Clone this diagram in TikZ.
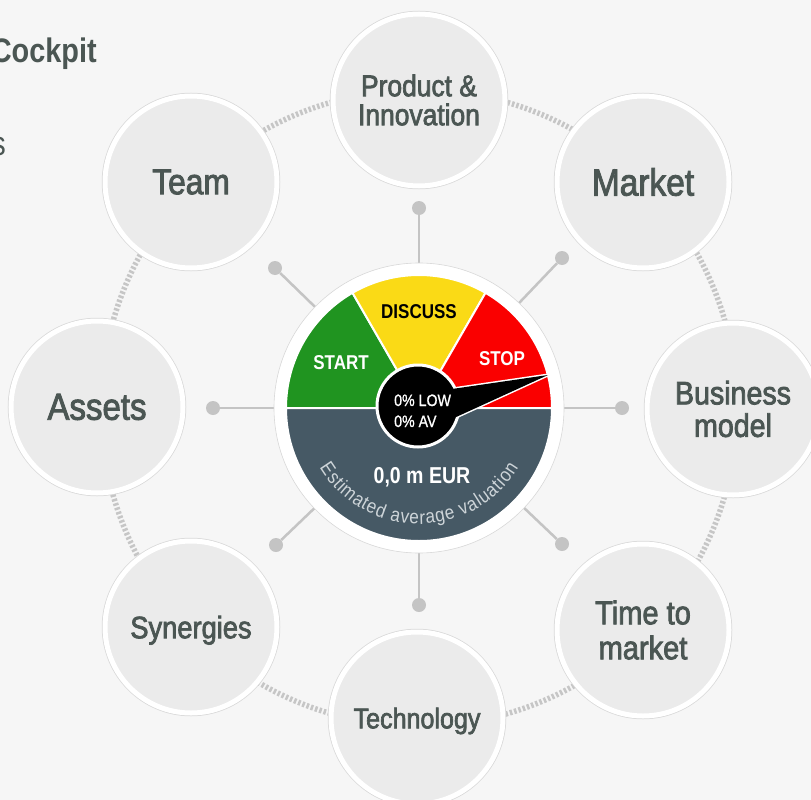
\documentclass[tikz,border=0pt]{standalone}
\usepackage{fontspec}
\usetikzlibrary{decorations.text}
\newfontfamily\lab{Liberation Sans}[FakeStretch=0.88,FakeBold=2.3]
\newfontfamily\gf{Liberation Sans}[FakeStretch=0.85]
\newfontfamily\gm{Liberation Sans}[FakeStretch=0.86,FakeBold=1]
\newfontfamily\gl{Liberation Sans}[FakeStretch=0.88]
\definecolor{bgc}{HTML}{F6F6F6}
\definecolor{ringc}{HTML}{C6C6C6}
\definecolor{spk}{HTML}{C4C4C4}
\definecolor{topicfill}{HTML}{EBEBEB}
\definecolor{topicedge}{HTML}{D8D8D8}
\definecolor{txt}{HTML}{4B5653}
\definecolor{gstart}{RGB}{32,148,32}
\definecolor{gdisc}{RGB}{250,218,22}
\definecolor{gstop}{RGB}{250,0,0}
\definecolor{slate}{RGB}{70,89,101}
\definecolor{valc}{RGB}{205,212,216}
\tikzset{
  topic/.style={circle, minimum size=172pt, inner sep=0pt, fill=topicfill,
    draw=white, line width=5pt, preaction={draw=topicedge, line width=6.5pt},
    text=txt, align=center},
  fs/.style 2 args={font=\lab\fontsize{#1}{#2}\selectfont},
  dotnode/.style={circle, fill=spk, minimum size=14pt, inner sep=0pt},
  spoke/.style={draw=spk, line width=2.5pt},
  ringline/.style={draw=ringc, line width=5.5pt, dash pattern=on 2.5pt off 2pt},
  sector/.style={draw=white, line width=2pt},
  gtext/.style={font=\gf\bfseries\fontsize{20}{20}\selectfont}
}
\begin{document}
\begin{tikzpicture}[x=1pt,y=-1pt]
\useasboundingbox (0,0) rectangle (811,800);
\fill[bgc] (0,0) rectangle (811,800);
\coordinate (C) at (419,408);

% title fragments
\node[anchor=base east, inner sep=0pt, text=txt, font=\gf\bfseries\fontsize{34}{34}\selectfont] (title) at (97,63) {Cockpit};
\node[anchor=base east, inner sep=0pt, text=txt, font=\gf\fontsize{34}{34}\selectfont] (frag) at (6,155) {s};

% dotted ring
\draw[ringline] (C) circle[radius=318];

% spokes
\node[dotnode] (d1) at (419,208) {};
\node[dotnode] (d2) at (562,258) {};
\node[dotnode] (d3) at (622,408) {};
\node[dotnode] (d4) at (562,544) {};
\node[dotnode] (d5) at (419,605) {};
\node[dotnode] (d6) at (276,545) {};
\node[dotnode] (d7) at (213,408) {};
\node[dotnode] (d8) at (275,268) {};
\foreach \d in {d1,d2,d3,d4,d5,d6,d7,d8} \draw[spoke] (C) -- (\d);

% topic circles
\node[topic, fs={30}{30}] (product) at (419,100) {Product \&\\[-1pt]Innovation};
\node[topic, fs={38}{38}] (market) at (643,182) {Market};
\node[topic, fs={32.5}{32.5}] (business) at (733,409) {Business\\model};
\node[topic, fs={33}{35}] (ttm) at (643,630) {Time to\\market};
\node[topic, fs={28.5}{28.5}, text depth=0pt] (tech) at (417,718) {Technology};
\node[topic, fs={31}{31}, text depth=0pt] (syn) at (191,627) {Synergies};
\node[topic, fs={37.5}{37.5}] (assets) at (97,407) {Assets};
\node[topic, fs={36}{36}] (team) at (191,182) {Team};

% gauge
\node[circle, minimum size=290pt, inner sep=0pt, fill=white, draw=topicedge, line width=0.6pt] (gauge) at (C) {};
\filldraw[sector, fill=gstart] (C) -- ([shift={(C)}]180:133) arc[start angle=180, end angle=240, radius=133] -- cycle;
\filldraw[sector, fill=gdisc] (C) -- ([shift={(C)}]240:133) arc[start angle=240, end angle=300, radius=133] -- cycle;
\filldraw[sector, fill=gstop] (C) -- ([shift={(C)}]300:133) arc[start angle=300, end angle=360, radius=133] -- cycle;
\filldraw[sector, fill=slate] ([shift={(C)}]0:133) arc[start angle=0, end angle=180, radius=133] -- cycle;

% needle and hub
\coordinate (n1) at (452,389);
\coordinate (n2) at (548,375);
\coordinate (n3) at (454,418);
\coordinate (H) at (418,406);
\filldraw[fill=black, draw=white, line width=3pt, line join=miter] (n1) -- (n2) -- (n3) -- cycle;
\filldraw[fill=black, draw=white, line width=3pt] (H) circle[radius=41];
\fill[black] (n1) -- (n2) -- (n3) -- cycle;

% gauge labels
\node[gtext, text=black, anchor=base] (discuss) at (419,318) {DISCUSS};
\node[gtext, text=white, anchor=base] (start) at (341,369) {START};
\node[gtext, text=white, anchor=base] (stop) at (502,365) {STOP};
\node[anchor=base west, inner sep=0pt, text=white, font=\gm\fontsize{16.5}{16.5}\selectfont] (low) at (394,406) {0\% LOW};
\node[anchor=base west, inner sep=0pt, text=white, font=\gm\fontsize{16.5}{16.5}\selectfont] (av) at (394,427) {0\% AV};
\node[anchor=base, inner sep=0pt, text=white, font=\gf\bfseries\fontsize{23}{23}\selectfont] (eur) at (422,483) {0,0 m EUR};
\path[valc, decorate, decoration={text along path, text align={fit to path},
  text={|\gl\fontsize{19.5}{19.5}\selectfont\color{valc}|Estimated average valuation}}]
  ([shift={(C)}]149:116) arc[start angle=149, end angle=31, radius=116];
\end{tikzpicture}
\end{document}
